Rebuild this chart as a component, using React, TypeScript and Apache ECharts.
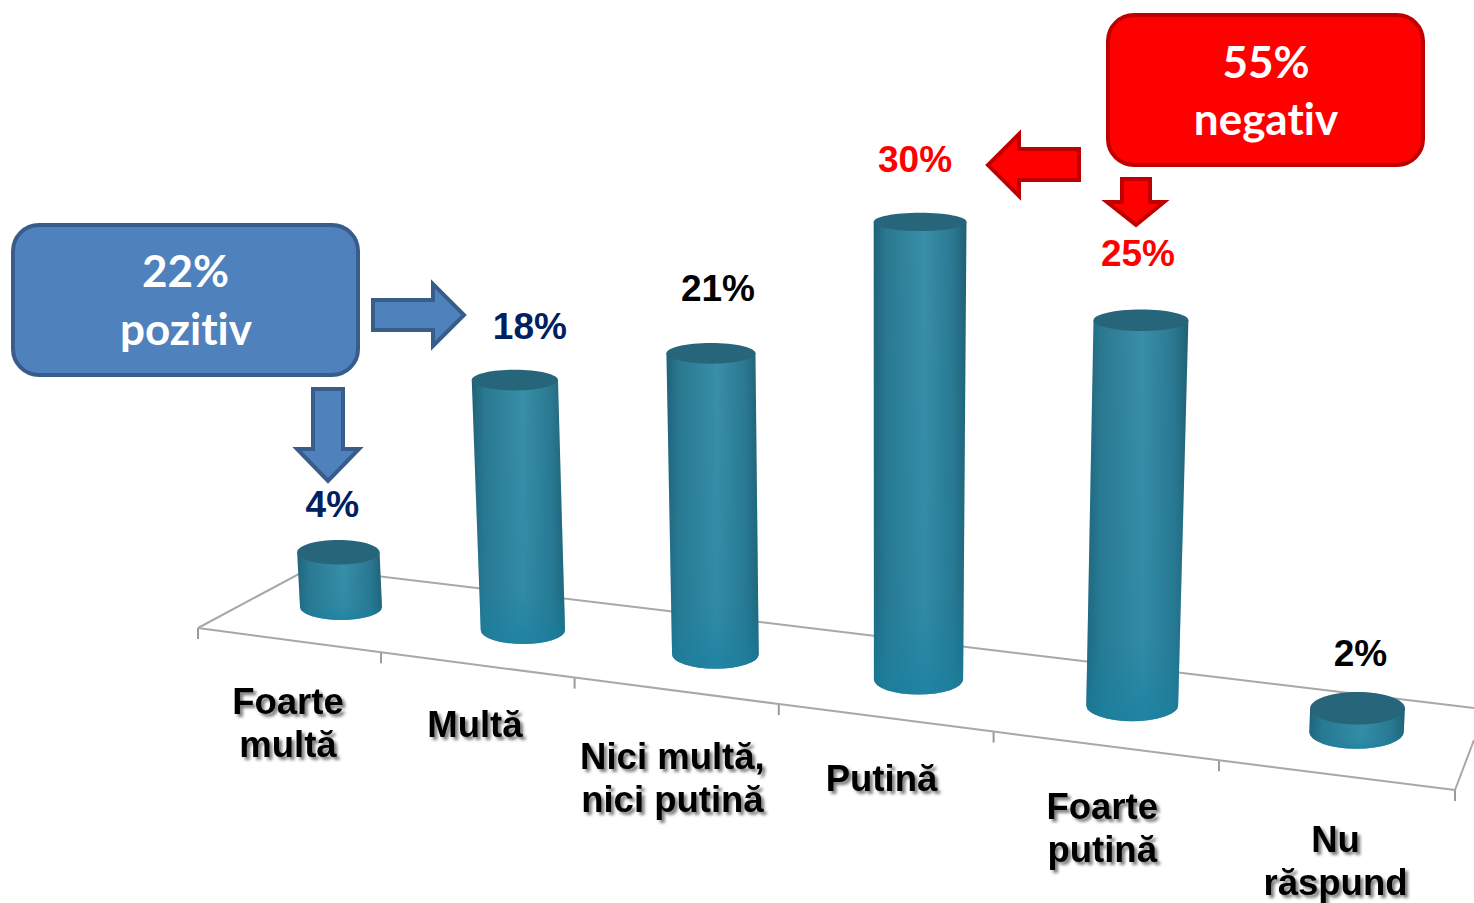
import React, { useEffect, useRef } from "react";
import * as echarts from "echarts";

const categories = ["Foarte\nmultă", "Multă", "Nici multă,\nnici putină", "Putină", "Foarte\nputină", "Nu\nrăspund"];
const values = [4, 18, 21, 30, 25, 2];
const valueLabels = ["4%", "18%", "21%", "30%", "25%", "2%"];
const NAVY = "#002060";
const labelColors = [NAVY, NAVY, "#000000", "#ff0000", "#ff0000", "#000000"];

// projection of the tilted chart
const depthFactor = [0.913, 0.927, 0.956, 1.017, 1.027, 0.8];
const valueLabelOffset = [[-6, -35], [15, -43], [7, -54], [-5, -53], [-3, -56], [3, -38]];
const catLabelOffset = [[-53, 116], [-48, 94], [-43, 124], [-37, 99], [-30, 123], [-21, 129]];

const FONT = "'Liberation Sans', Arial, sans-serif";
const BOX_FONT = "Lato, 'Open Sans', sans-serif";

const edgeY = (y0: number, i: number) => y0 + 13 + 23.5 * i + 0.45 * i * i;

const bodyGradient = () =>
  new echarts.graphic.LinearGradient(0, 0, 1, 0, [
    { offset: 0, color: "#1f6277" },
    { offset: 0.14, color: "#2b7890" },
    { offset: 0.55, color: "#398fa8" },
    { offset: 0.86, color: "#2b7790" },
    { offset: 1, color: "#206072" },
  ]);
const lowerGradient = () =>
  new echarts.graphic.LinearGradient(0, 0, 0, 1, [
    { offset: 0, color: "rgba(24,128,160,0)" },
    { offset: 0.8, color: "rgba(24,128,160,0.25)" },
    { offset: 1, color: "rgba(24,128,160,0.75)" },
  ]);

function renderFloor(_params: any, api: any) {
  const c0 = api.coord([0, 0])[0];
  const y0 = api.coord([0, 0])[1];
  const band = api.size([1, 0])[0];
  const fx = (n: number) => c0 - 143 + (band + 1.1) * n + 5.3 * n * n;
  const fy = (n: number) => y0 + 21 + 23.7 * n + 0.55 * n * n;
  const lineStyle = { stroke: "#a8a8a8", lineWidth: 2, fill: "none" };
  const children: any[] = [];
  const front: number[][] = [];
  for (let n = 0; n <= 6; n++) {
    front.push([fx(n), fy(n)]);
    children.push({
      type: "line",
      shape: { x1: fx(n), y1: fy(n), x2: fx(n), y2: fy(n) + 11 },
      style: { stroke: "#9a9a9a", lineWidth: 2 },
    });
  }
  children.push({ type: "polyline", shape: { points: front }, style: lineStyle });
  children.push({
    type: "polyline",
    shape: { points: [[fx(0), fy(0)], [fx(0) + 112, fy(0) - 60], [c0 + 1133, y0 + 101]] },
    style: lineStyle,
  });
  children.push({
    type: "line",
    shape: { x1: fx(6), y1: fy(6), x2: fx(6) + 19, y2: fy(6) - 50 },
    style: lineStyle,
  });
  return { type: "group", children };
}

function renderCylinder(_params: any, api: any) {
  const i = api.value(0);
  const v = api.value(1);
  const base = api.coord([i, 0]);
  const xb = base[0] + 5.3 * i * i;
  const x = xb;
  const ry = 13 + 0.0035 * (x - 341);
  const yb = edgeY(base[1], i) - ry;
  const h = api.size([0, v])[1] * depthFactor[i];
  const lean = (x - 880) * 0.00009 * h;
  const rb = 41 + 0.0062 * (x - 341);
  const rt = rb + h * 0.004;
  const ryTop = ry - 0.013 * h;
  const xt = xb + lean;
  const yt = yb - h;
  const d =
    `M ${xt - rt} ${yt} L ${xb - rb} ${yb} A ${rb} ${ry} 0 0 0 ${xb + rb} ${yb} L ${xt + rt} ${yt} Z`;
  const off = valueLabelOffset[i];
  const cOff = catLabelOffset[i];
  return {
    type: "group",
    children: [
      { type: "path", shape: { d }, style: { fill: bodyGradient() } },
      { type: "path", shape: { d }, style: { fill: lowerGradient() } },
      { type: "ellipse", shape: { cx: xt, cy: yt, rx: rt, ry: ryTop }, style: { fill: "#27667a" } },
      {
        type: "text",
        style: {
          text: valueLabels[i],
          x: xt + off[0],
          y: yt - ryTop + off[1],
          align: "center",
          verticalAlign: "middle",
          fontFamily: FONT,
          fontWeight: "bold",
          fontSize: 37,
          fill: labelColors[i],
        },
      },
      {
        type: "text",
        style: {
          text: categories[i],
          x: xb + cOff[0],
          y: yb + cOff[1],
          align: "center",
          verticalAlign: "middle",
          fontFamily: FONT,
          fontWeight: "bold",
          fontSize: 36.5,
          lineHeight: 43,
          fill: "#000000",
          textShadowColor: "rgba(0,0,0,0.5)",
          textShadowBlur: 3,
          textShadowOffsetX: 3,
          textShadowOffsetY: 3,
        },
      },
    ],
  };
}

const boxText = (text: string, x: number, y: number) => ({
  type: "text",
  style: {
    text,
    x,
    y,
    align: "center",
    verticalAlign: "middle",
    fontFamily: BOX_FONT,
    fontWeight: "bold",
    fontSize: 44,
    fill: "#ffffff",
  },
});
const blueStyle = { fill: "#4f81bd", stroke: "#385d8a", lineWidth: 4, lineJoin: "miter" };
const redStyle = { fill: "#ff0000", stroke: "#c00000", lineWidth: 4, lineJoin: "miter" };

export default function App() {
  const ref = useRef<HTMLDivElement>(null);
  useEffect(() => {
    const chart = echarts.init(ref.current!, null, { renderer: "svg" });
    chart.setOption({
      animation: false,
      backgroundColor: "#ffffff",
      grid: { left: 252.7, width: 1059.6, top: 82, height: 525 },
      xAxis: { type: "category", data: categories, show: false },
      yAxis: { type: "value", min: 0, max: 35, interval: 5, show: false },
      series: [
        { type: "custom", renderItem: renderFloor, data: [[0, 0]], silent: true, clip: false, z: 1 },
        {
          type: "custom",
          renderItem: renderCylinder,
          data: values.map((v, i) => [i, v]),
          encode: { x: 0, y: 1 },
          silent: true,
          clip: false,
          z: 2,
        },
      ],
      graphic: [
        { type: "rect", shape: { x: 13, y: 225, width: 345, height: 150, r: 26 }, style: blueStyle },
        boxText("22%", 185.5, 270),
        boxText("pozitiv", 186, 328),
        {
          type: "polygon",
          shape: { points: [[373, 300], [433, 300], [433, 284], [464, 315], [433, 346], [433, 330], [373, 330]] },
          style: blueStyle,
        },
        {
          type: "polygon",
          shape: { points: [[313, 389], [343, 389], [343, 449], [359, 449], [328, 481], [297, 449], [313, 449]] },
          style: blueStyle,
        },
        { type: "rect", shape: { x: 1108, y: 15, width: 315, height: 150, r: 26 }, style: redStyle },
        boxText("55%", 1266, 61),
        boxText("negativ", 1266, 118),
        {
          type: "polygon",
          shape: { points: [[1079, 149], [1019, 149], [1019, 134], [988, 165], [1019, 196], [1019, 180], [1079, 180]] },
          style: redStyle,
        },
        {
          type: "polygon",
          shape: { points: [[1122, 179], [1150, 179], [1150, 202], [1164, 202], [1136, 225], [1107, 202], [1122, 202]] },
          style: redStyle,
        },
      ],
    });
    return () => chart.dispose();
  }, []);
  return (
    <>
      <style>{`svg text { font-variant-ligatures: none !important; }`}</style>
      <div ref={ref} style={{ position: "absolute", left: 0, top: 0, width: 1474, height: 903 }} />
    </>
  );
}
